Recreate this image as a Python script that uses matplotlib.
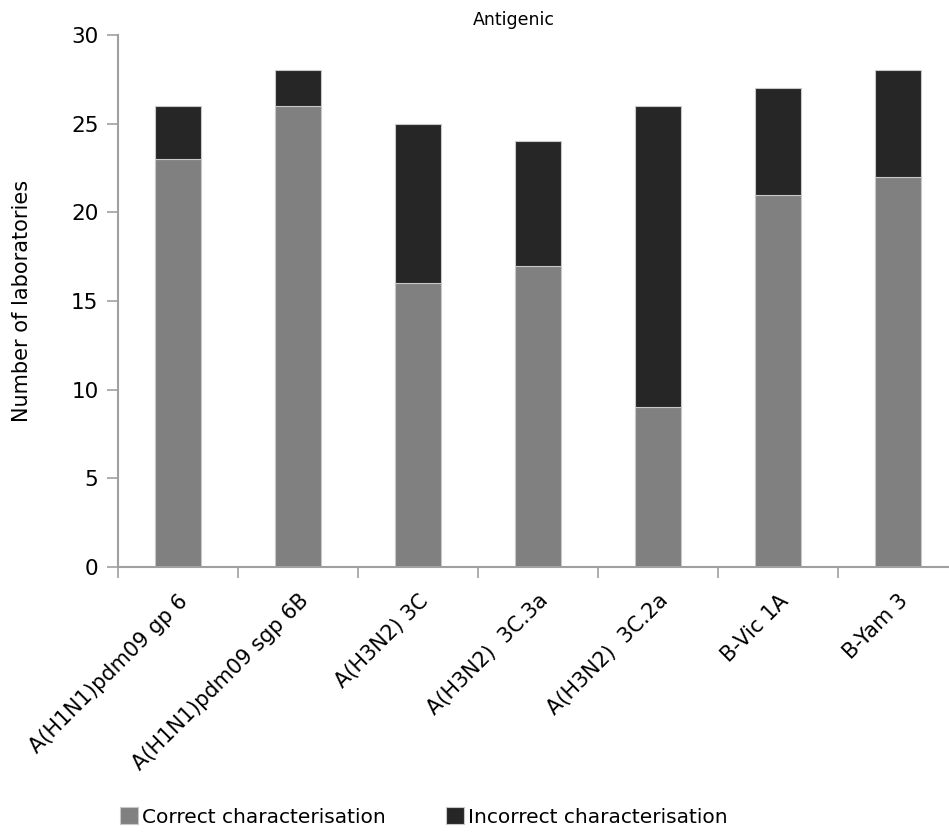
import numpy as np
import matplotlib
matplotlib.use("Agg")
import matplotlib.pyplot as plt
from matplotlib.ticker import FixedLocator

categories = ["A(H1N1)pdm09 gp 6", "A(H1N1)pdm09 sgp 6B", "A(H3N2) 3C",
              "A(H3N2)  3C.3a", "A(H3N2)  3C.2a", "B-Vic 1A", "B-Yam 3"]
correct = [23, 26, 16, 17, 9, 21, 22]
incorrect = [3, 2, 9, 7, 17, 6, 6]

plt.rcParams["font.family"] = ["DejaVu Sans"]

fig = plt.figure(figsize=(9.49, 8.34), dpi=100)
ax = fig.add_axes([118 / 949, 1 - 567 / 834, 840 / 949, 532 / 834])

x = np.arange(len(categories))
ax.bar(x, correct, width=0.39, color="#808080", edgecolor="#c8c8c8",
       linewidth=0.8, label="Correct characterisation", zorder=2)
ax.bar(x, incorrect, width=0.39, bottom=correct, color="#262626",
       edgecolor="#c8c8c8", linewidth=0.8,
       label="Incorrect characterisation", zorder=2)

ax.set_xlim(-0.5, len(categories) - 0.5)
ax.set_ylim(0, 30)
ax.set_yticks(range(0, 31, 5))

ax.set_xticks(x)
ax.set_xticklabels(categories, rotation=45, ha="right",
                   rotation_mode="anchor", fontsize=15)
ax.tick_params(axis="x", which="major", length=0, pad=17)
ax.xaxis.set_minor_locator(FixedLocator(np.arange(-0.5, len(categories), 1)))
ax.tick_params(axis="x", which="minor", length=8, width=1.2, color="#a0a0a0")
ax.tick_params(axis="y", length=8, width=1.2, color="#a0a0a0",
               labelsize=15.5, pad=6)

for side in ["top", "right"]:
    ax.spines[side].set_visible(False)
for side in ["left", "bottom"]:
    ax.spines[side].set_color("#a0a0a0")
    ax.spines[side].set_linewidth(1.5)

ax.set_ylabel("Number of laboratories", fontsize=15, labelpad=28)
fig.text(514 / 949, 1 - 20 / 834, "Antigenic", ha="center", va="center",
         fontsize=12.5)

fig.legend(loc="center", bbox_to_anchor=(424 / 949, 1 - 817 / 834), ncol=2,
           frameon=False, fontsize=14.5, handlelength=0.9, handleheight=0.9,
           handletextpad=0.2, columnspacing=3.0)

fig.savefig("out.png", dpi=100)
